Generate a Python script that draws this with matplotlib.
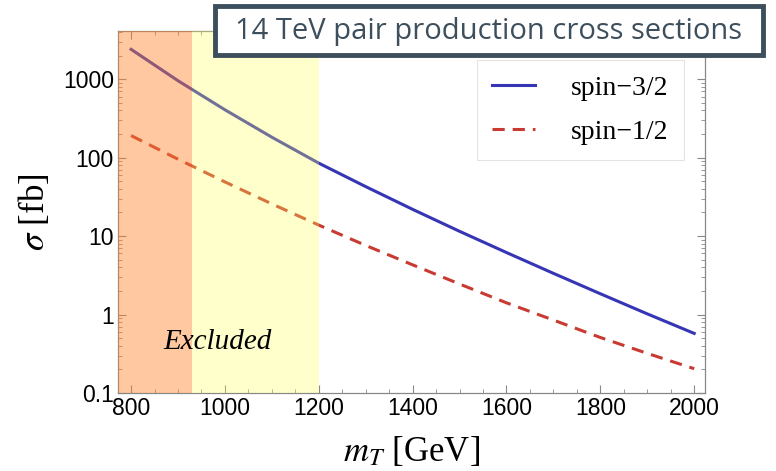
import numpy as np
import matplotlib.pyplot as plt
from matplotlib.patches import Rectangle
from matplotlib.ticker import LogLocator, MultipleLocator, NullFormatter

# pair production cross sections at 14 TeV (fb) vs. top-partner mass (GeV)
mass = [800, 900, 1000, 1100, 1200, 1300, 1400, 1500, 1600, 1700, 1800, 1900, 2000]
sigma_32 = [2400, 955, 407, 182, 85, 42.7, 21.9, 11.5, 6.17, 3.35, 1.84, 1.02, 0.575]
sigma_12 = [191, 95.5, 49, 25.7, 13.8, 7.6, 4.3, 2.45, 1.41, 0.85, 0.51, 0.32, 0.204]

excl_hard = 930
excl_soft = 1200

plt.rcParams['mathtext.fontset'] = 'stix'

fig = plt.figure(figsize=(7.76, 4.71), dpi=100)
ax = fig.add_axes([0.152, 0.1656, 0.7565, 0.7684])

ax.plot(mass, sigma_32, color='#3535b5', lw=2.2, label='spin\u22123/2', zorder=2)
ax.plot(mass, sigma_12, color='#c83a32', lw=2.2, ls=(0, (4, 2.6)), label='spin\u22121/2', zorder=2)

# excluded mass ranges, laid over the curves
ax.axvspan(700, excl_hard, color='#ff852c', alpha=0.45, lw=0, zorder=3)
ax.axvspan(excl_hard, excl_soft, color='#ffff55', alpha=0.3, lw=0, zorder=3)
ax.text(985, 0.45, 'Excluded', ha='center', va='center', fontsize=21,
        family='Liberation Serif', style='italic', zorder=4)

ax.set_yscale('log')
ax.set_xlim(772, 2023)
ax.set_ylim(0.1, 4100)

ax.xaxis.set_major_locator(MultipleLocator(200))
ax.xaxis.set_minor_locator(MultipleLocator(50))
ax.yaxis.set_major_locator(LogLocator(base=10, numticks=10))
ax.yaxis.set_minor_locator(LogLocator(base=10, subs=np.arange(2, 10), numticks=10))
ax.yaxis.set_minor_formatter(NullFormatter())
ax.set_yticks([0.1, 1, 10, 100, 1000])
ax.set_yticklabels(['0.1', '1', '10', '100', '1000'])

ax.tick_params(which='both', direction='in', top=True, right=True, color='#888888',
               labelsize=16.5, pad=3)
ax.tick_params(which='major', length=6, width=0.8)
ax.tick_params(which='minor', length=3, width=0.6)
for lbl in ax.get_xticklabels() + ax.get_yticklabels():
    lbl.set_family('Liberation Sans')
for s in ax.spines.values():
    s.set_color('#888888')
    s.set_linewidth(0.9)

ax.set_xlabel(r'$m_T$ [GeV]', fontsize=25, family='Liberation Serif', labelpad=11)
ax.set_ylabel(r'$\sigma$ [fb]', fontsize=25, family='Liberation Serif', labelpad=8)

leg = ax.legend(loc='upper right', bbox_to_anchor=(0.964, 0.92), borderaxespad=0,
                prop={'family': 'Liberation Serif', 'size': 20}, handlelength=1.55,
                handletextpad=1.3, borderpad=0.55, labelspacing=0.68, fancybox=False)
leg.get_frame().set_edgecolor('#dddddd')
leg.get_frame().set_linewidth(0.8)

# title banner
fig.patches.append(Rectangle((0.277, 0.883), 0.706, 0.104, transform=fig.transFigure,
                             facecolor='white', edgecolor='#3d4f5c', lw=3.5, zorder=10))
fig.text(0.63, 0.934, '14 TeV pair production cross sections', ha='center', va='center',
         fontsize=21, family='Open Sans', color='#3d4f5c', zorder=11)

fig.savefig('out.png', dpi=100)
